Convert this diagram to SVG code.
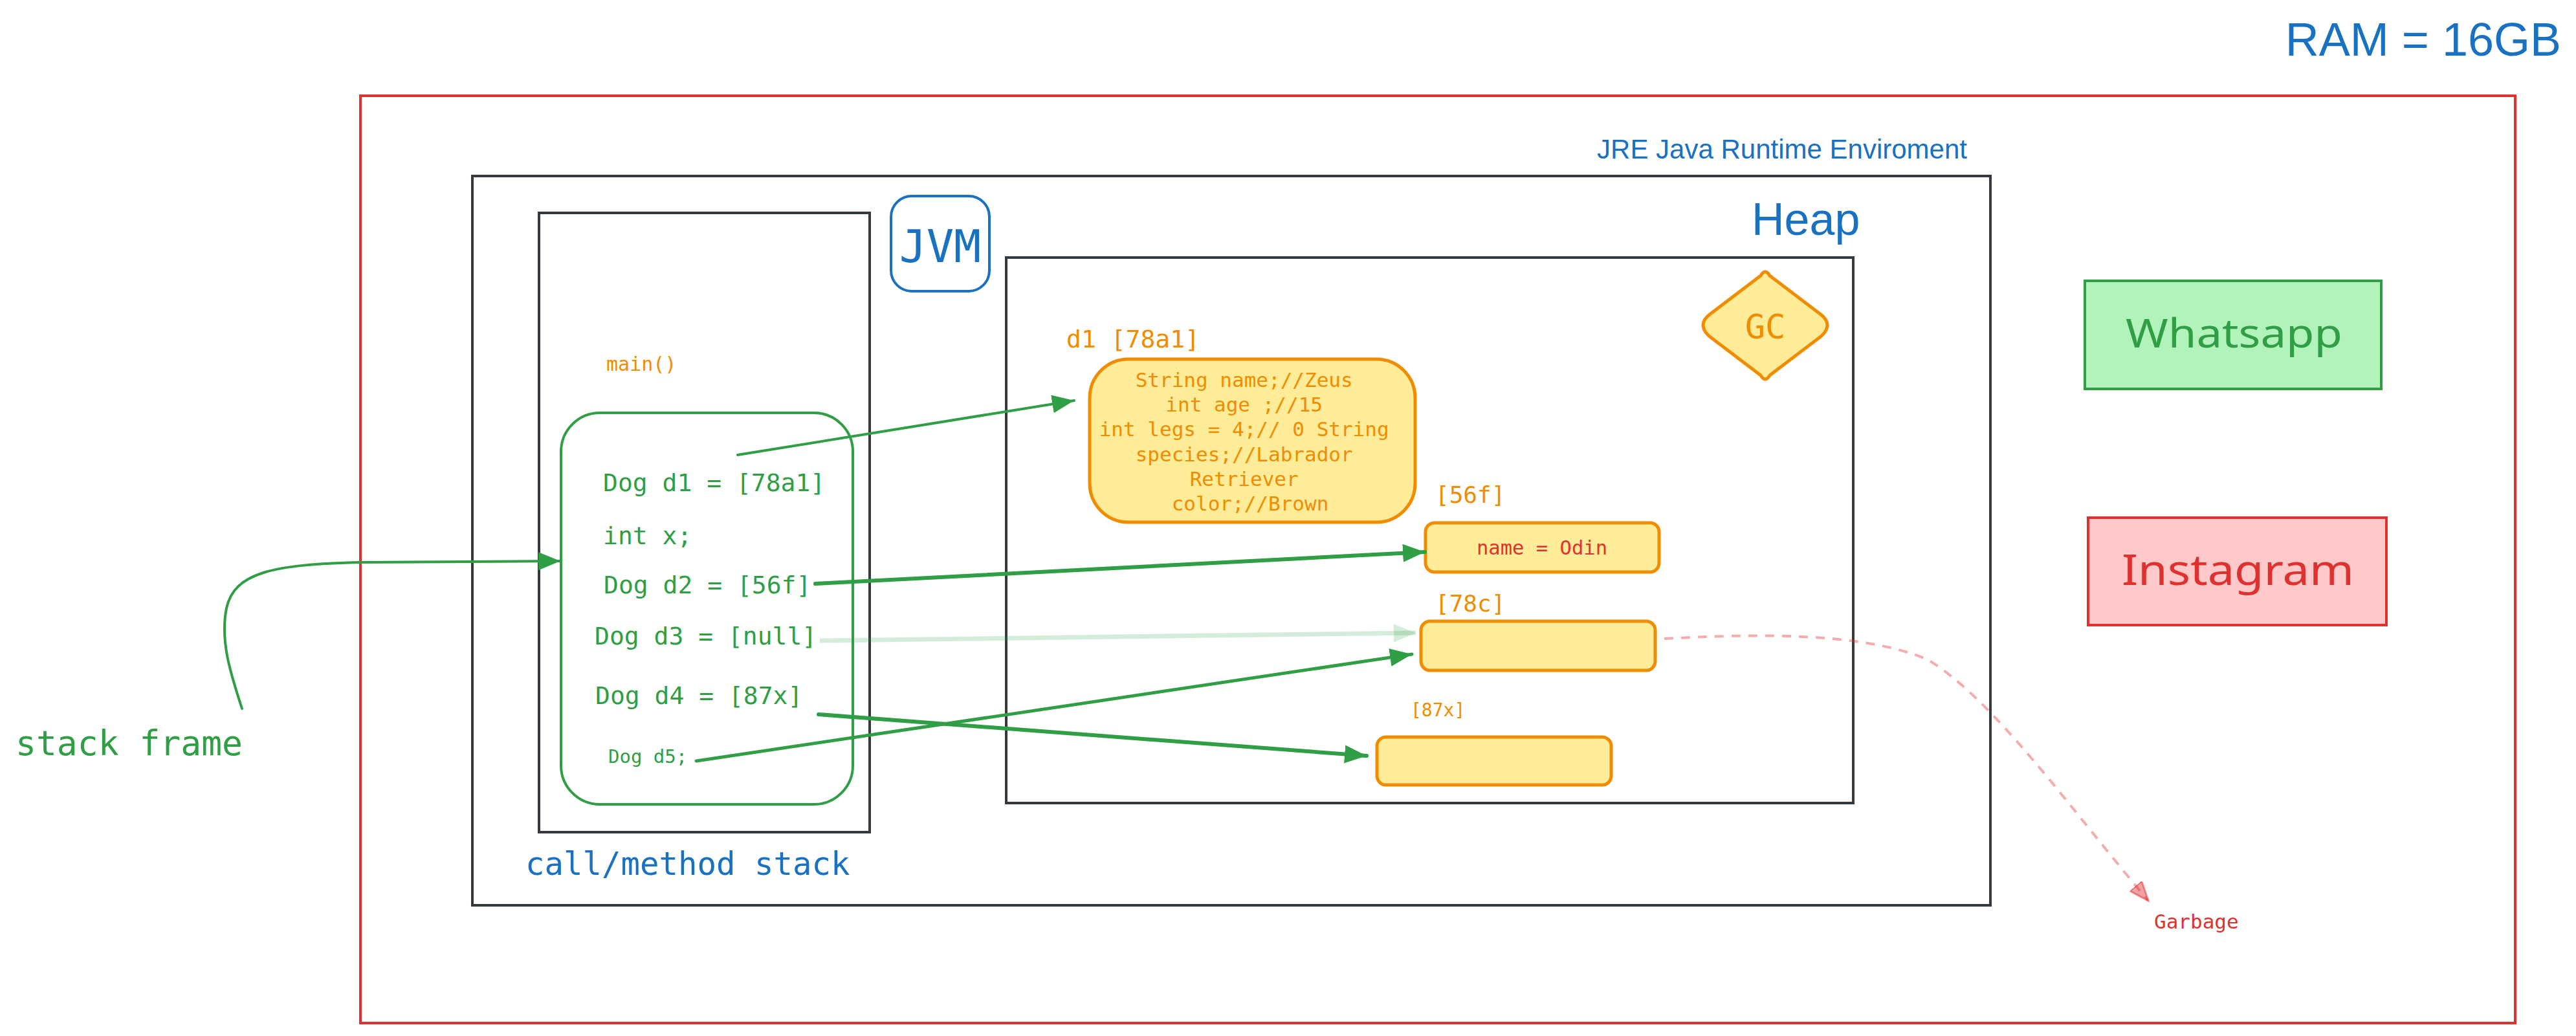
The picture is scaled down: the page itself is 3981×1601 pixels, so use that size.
<svg xmlns="http://www.w3.org/2000/svg" width="3981" height="1601" viewBox="0 0 3981 1601">
<style>
.mono{font-family:"DejaVu Sans Mono","Liberation Mono",monospace}
.sans{font-family:"Liberation Sans",Arial,sans-serif}
.hand{font-family:"Noto Sans","Open Sans",sans-serif}
.frame{fill:none;stroke:#343a40;stroke-width:4}
.obj{fill:#ffec99;stroke:#f08c00;stroke-width:5}
.gtxt{fill:#2f9e44}
.otxt{fill:#f08c00}
.btxt{fill:#1971c2}
.rtxt{fill:#e03131}
.arr{fill:none;stroke:#2f9e44;stroke-linecap:round}
</style>
<defs>
<marker id="ag" markerUnits="userSpaceOnUse" markerWidth="40" markerHeight="30" refX="34" refY="14" orient="auto">
<path d="M0,0 L34,14 L0,28 z" fill="#2f9e44"/>
</marker>
<marker id="af" markerUnits="userSpaceOnUse" markerWidth="40" markerHeight="30" refX="34" refY="14" orient="auto">
<path d="M0,0 L34,14 L0,28 z" fill="#2f9e44" fill-opacity="0.2"/>
</marker>
<marker id="ar" markerUnits="userSpaceOnUse" markerWidth="40" markerHeight="30" refX="30" refY="12" orient="auto">
<path d="M0,0 L30,12 L0,24 z" fill="#e03131" fill-opacity="0.45" stroke="#e03131" stroke-opacity="0.5" stroke-width="3"/>
</marker>
</defs>
<rect width="3981" height="1601" fill="#ffffff"/>

<g id="ram">
<text class="sans btxt" x="3958" y="86" font-size="72" text-anchor="end">RAM = 16GB</text>
<rect x="557" y="148" width="3330" height="1433" fill="none" stroke="#e03131" stroke-width="4"/>
</g>

<g id="jre">
<rect class="frame" x="730" y="272" width="2346" height="1127"/>
<text class="sans btxt" x="3040" y="245" font-size="42" text-anchor="end">JRE Java Runtime Enviroment</text>
</g>

<g id="jvm">
<rect x="1377" y="303" width="152" height="147" rx="32" fill="none" stroke="#1971c2" stroke-width="4"/>
<text class="mono btxt" x="1453" y="405" font-size="70" text-anchor="middle">JVM</text>
</g>

<g id="stack">
<rect class="frame" x="833" y="329" width="511" height="957"/>
<text class="mono btxt" x="812" y="1352" font-size="49">call/method stack</text>
<text class="mono otxt" x="937" y="573" font-size="30">main()</text>
</g>

<g id="stackframe">
<rect x="867" y="638" width="451" height="605" rx="60" fill="none" stroke="#2f9e44" stroke-width="4"/>
<text class="mono gtxt" x="932" y="759" font-size="38">Dog d1 = [78a1]</text>
<text class="mono gtxt" x="932" y="841" font-size="38">int x;</text>
<text class="mono gtxt" x="933" y="917" font-size="38">Dog d2 = [56f]</text>
<text class="mono gtxt" x="919" y="996" font-size="38">Dog d3 = [null]</text>
<text class="mono gtxt" x="920" y="1088" font-size="38">Dog d4 = [87x]</text>
<text class="mono gtxt" x="940" y="1179" font-size="29">Dog d5;</text>
</g>

<g id="stackframe-label">
<text class="mono gtxt" x="24" y="1167" font-size="53">stack frame</text>
</g>

<g id="heap">
<rect class="frame" x="1555" y="398" width="1309" height="843"/>
<text class="sans btxt" x="2707" y="363" font-size="70">Heap</text>
</g>

<g id="gc">
<path d="M2721,426 Q2728,414 2735,426 L2814,486 Q2834,502 2814,520 L2735,580 Q2728,592 2721,580 L2642,520 Q2622,502 2642,486 z" fill="#ffec99" stroke="#f08c00" stroke-width="5" stroke-linejoin="round"/>
<text class="mono otxt" x="2728" y="523" font-size="52" text-anchor="middle">GC</text>
</g>

<g id="obj-78a1">
<text class="mono otxt" x="1648" y="537" font-size="38">d1 [78a1]</text>
<rect class="obj" x="1684" y="555" width="503" height="252" rx="60"/>
<text class="mono otxt" font-size="31" text-anchor="middle">
<tspan x="1932" y="598">String name;//Zeus</tspan>
<tspan x="1932" y="636">int age ;//15</tspan>
<tspan x="1932" y="674">int legs = 4;// 0 String</tspan>
<tspan x="1932" y="713">species;//Labrador</tspan>
<tspan x="1932" y="751">Retriever</tspan>
<tspan x="1932" y="789">color;//Brown</tspan>
</text>
</g>

<g id="obj-56f">
<text class="mono otxt" x="2218" y="777" font-size="36">[56f]</text>
<rect class="obj" x="2203" y="808" width="361" height="76" rx="14"/>
<text class="mono rtxt" x="2383" y="857" font-size="30.5" text-anchor="middle">name = Odin</text>
</g>

<g id="obj-78c">
<text class="mono otxt" x="2218" y="945" font-size="36">[78c]</text>
<rect class="obj" x="2196" y="960" width="362" height="76" rx="14"/>
</g>

<g id="obj-87x">
<text class="mono otxt" x="2180" y="1107" font-size="28">[87x]</text>
<rect class="obj" x="2128" y="1139" width="362" height="74" rx="14"/>
</g>

<g id="whatsapp">
<rect x="3222" y="434" width="458" height="167" fill="#b2f2bb" stroke="#2f9e44" stroke-width="4"/>
<text class="hand gtxt" x="3285" y="537" font-size="62" textLength="335" lengthAdjust="spacingAndGlyphs">Whatsapp</text>
</g>

<g id="instagram">
<rect x="3227" y="800" width="461" height="166" fill="#ffc9c9" stroke="#e03131" stroke-width="4"/>
<text class="hand rtxt" x="3279" y="904" font-size="66" textLength="359" lengthAdjust="spacingAndGlyphs">Instagram</text>
</g>

<g id="garbage">
<text class="mono rtxt" x="3329" y="1435" font-size="31">Garbage</text>
</g>

<g id="connectors">
<path class="arr" stroke-width="4" d="M374,1095 C356,1040 340,990 350,940 C362,885 420,872 560,869 L866,867" marker-end="url(#ag)"/>
<path class="arr" stroke-width="4" d="M1140,703 L1660,619" marker-end="url(#ag)"/>
<path class="arr" stroke-width="6" d="M1260,902 L2202,853" marker-end="url(#ag)"/>
<path fill="none" stroke="#2f9e44" stroke-opacity="0.2" stroke-width="7" d="M1267,990 L2188,978" marker-end="url(#af)"/>
<path class="arr" stroke-width="6" d="M1265,1104 L2112,1168" marker-end="url(#ag)"/>
<path class="arr" stroke-width="5" d="M1076,1176 L2182,1011" marker-end="url(#ag)"/>
<path fill="none" stroke="#e03131" stroke-opacity="0.4" stroke-width="4" stroke-dasharray="14 12" d="M2572,987 C2700,980 2880,975 2980,1020 C3080,1080 3200,1250 3320,1392" marker-end="url(#ar)"/>
</g>
</svg>
